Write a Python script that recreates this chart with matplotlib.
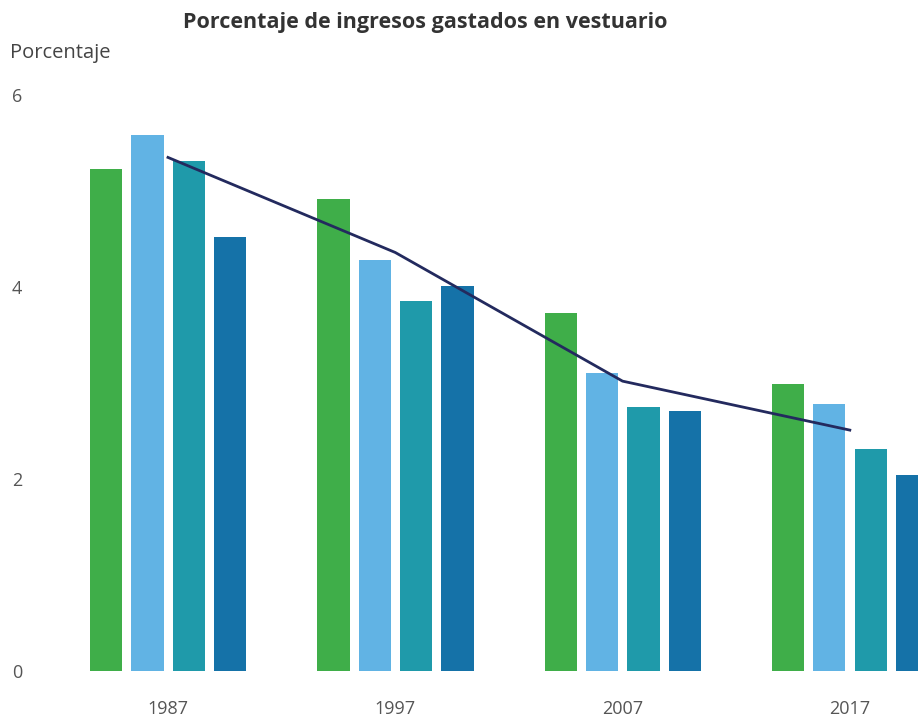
import matplotlib.pyplot as plt
import numpy as np

years = ['1987', '1997', '2007', '2017']
serie_a = [5.23, 4.92, 3.73, 2.99]
serie_b = [5.58, 4.28, 3.10, 2.78]
serie_c = [5.31, 3.85, 2.75, 2.31]
serie_d = [4.52, 4.01, 2.71, 2.04]
promedio = [5.35, 4.36, 3.02, 2.51]

colors = ['#3fae49', '#61b3e4', '#1f9aaa', '#1572a8']
offsets = [-0.272, -0.09, 0.092, 0.274]
width = 0.142

plt.rcParams['font.family'] = ['Open Sans', 'DejaVu Sans']

fig = plt.figure(figsize=(9.18, 7.17), dpi=100)
ax = fig.add_axes([0.027, 0.064, 0.973, 0.8035])

x = np.arange(len(years))
for vals, col, off in zip([serie_a, serie_b, serie_c, serie_d], colors, offsets):
    ax.bar(x + off, vals, width, color=col, zorder=2)

ax.plot(x, promedio, color='#232a5e', lw=2, zorder=3)

ax.set_xlim(-0.63, 3.3)
ax.set_ylim(0, 6)
ax.set_yticks([0, 2, 4, 6])
ax.set_xticks(x)
ax.set_xticklabels(years)
ax.tick_params(axis='both', length=0, labelsize=13, colors='#555555')
ax.tick_params(axis='x', pad=21)
ax.tick_params(axis='y', pad=2)
for s in ax.spines.values():
    s.set_visible(False)

fig.text(0.463, 0.968, 'Porcentaje de ingresos gastados en vestuario',
         ha='center', va='center', fontsize=15.5, fontweight='bold', color='#333333')
fig.text(0.011, 0.926, 'Porcentaje', ha='left', va='center', fontsize=14.5, color='#444444')

fig.savefig('out.png', dpi=100)
